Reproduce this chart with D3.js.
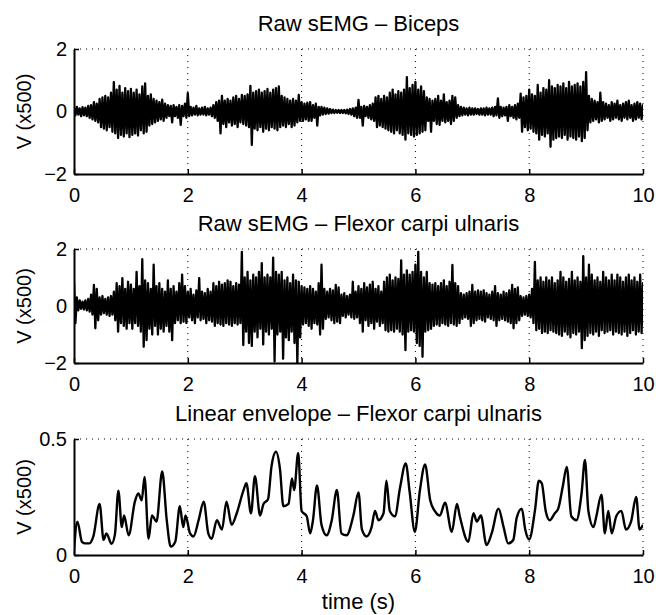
<!DOCTYPE html>
<html>
<head>
<meta charset="utf-8">
<script src="https://cdn.jsdelivr.net/npm/d3@7"></script>
<style>
body { margin: 0; background: #fff; }
svg { font-family: "Liberation Sans", Arial, Helvetica, sans-serif; }
</style>
</head>
<body>
<div id="chart"></div>
<script>
const rawStep = 0.05;

const bicepsHi = [
  0.12,0.15,0.1,0.14,0.12,0.18,0.2,0.3,0.25,0.4,0.45,0.5,0.45,0.6,0.94,0.7,0.82,0.6,0.75,0.65,
  0.72,0.6,0.7,0.55,0.8,0.9,0.5,0.55,0.4,0.35,0.3,0.38,0.25,0.2,0.18,0.2,0.15,0.2,0.18,0.25,
  0.59,0.15,0.12,0.18,0.1,0.12,0.15,0.1,0.12,0.2,0.3,0.35,0.5,0.35,0.4,0.35,0.45,0.5,0.4,0.53,
  0.5,0.55,0.82,0.6,0.65,0.7,0.6,0.65,0.72,0.6,0.7,0.75,0.8,0.5,0.45,0.4,0.35,0.4,0.35,0.53,
  0.3,0.25,0.28,0.3,0.2,0.25,0.15,0.15,0.12,0.1,0.08,0.06,0.05,0.05,0.05,0.05,0.06,0.08,0.1,0.12,
  0.37,0.15,0.18,0.15,0.2,0.25,0.45,0.5,0.4,0.5,0.45,0.6,0.7,0.55,0.65,0.6,0.7,1.1,0.75,0.85,
  0.95,0.7,0.8,0.65,0.45,0.4,0.35,0.4,0.5,0.35,0.55,0.3,0.35,0.5,0.45,0.2,0.15,0.12,0.1,0.12,
  0.1,0.1,0.08,0.1,0.1,0.12,0.1,0.12,0.15,0.42,0.15,0.12,0.15,0.2,0.15,0.2,0.25,0.57,0.45,0.5,
  0.7,0.55,0.5,0.85,0.6,0.75,0.7,1.0,0.8,0.75,0.85,0.8,0.9,0.75,0.95,0.8,0.85,0.9,0.8,0.95,
  1.26,0.5,0.4,0.35,0.3,0.6,0.3,0.25,0.2,0.3,0.25,0.35,0.2,0.25,0.3,0.35,0.2,0.25,0.3,0.25,
  0.2
];
const bicepsLo = [
  -0.12,-0.1,-0.15,-0.12,-0.15,-0.2,-0.25,-0.3,-0.35,-0.5,-0.55,-0.6,-0.5,-0.65,-0.7,-0.85,-0.75,-0.8,-0.7,-0.82,
  -0.75,-0.7,-0.77,-0.6,-0.7,-0.65,-0.45,-0.4,-0.35,-0.3,-0.25,-0.3,-0.2,-0.15,-0.35,-0.15,-0.2,-0.43,-0.15,-0.2,
  -0.15,-0.12,-0.1,-0.12,-0.1,-0.1,-0.12,-0.1,-0.15,-0.2,-0.3,-0.7,-0.4,-0.5,-0.35,-0.45,-0.4,-0.5,-0.35,-0.4,
  -0.45,-0.5,-1.07,-0.55,-0.6,-0.5,-0.65,-0.55,-0.6,-0.5,-0.55,-0.6,-0.5,-0.45,-0.5,-0.4,-0.5,-0.45,-0.35,-0.3,
  -0.3,-0.25,-0.3,-0.3,-0.2,-0.45,-0.12,-0.1,-0.08,-0.07,-0.05,-0.05,-0.04,-0.05,-0.05,-0.06,-0.08,-0.1,-0.15,-0.2,
  -0.2,-0.45,-0.15,-0.2,-0.25,-0.3,-0.5,-0.45,-0.5,-0.55,-0.6,-0.65,-0.7,-0.6,-0.7,-0.75,-0.9,-0.7,-0.75,-0.8,
  -0.75,-0.7,-0.65,-0.6,-0.3,-0.65,-0.3,-0.4,-0.43,-0.3,-0.35,-0.3,-0.4,-0.3,-0.2,-0.15,-0.12,-0.1,-0.12,-0.1,
  -0.1,-0.08,-0.1,-0.1,-0.12,-0.1,-0.1,-0.15,-0.12,-0.2,-0.15,-0.12,-0.3,-0.15,-0.2,-0.25,-0.2,-0.65,-0.5,-0.6,
  -0.55,-0.65,-0.7,-0.9,-0.75,-0.8,-0.7,-1.13,-0.9,-0.85,-0.8,-0.85,-0.75,-0.9,-0.8,-0.85,-0.9,-0.8,-0.95,-0.85,
  -0.6,-0.35,-0.3,-0.25,-0.35,-0.3,-0.25,-0.2,-0.3,-0.25,-0.2,-0.25,-0.3,-0.2,-0.25,-0.2,-0.3,-0.25,-0.2,-0.25,
  -0.2
];

const flexorHi = [
  0.85,0.3,0.2,0.15,0.2,0.25,0.4,0.74,0.6,0.3,0.35,0.25,0.3,0.35,0.5,0.8,0.7,0.98,0.6,0.85,
  0.75,0.6,1.2,0.7,1.64,0.9,0.8,0.6,1.45,0.7,0.8,0.6,0.5,0.9,0.6,0.7,0.5,0.8,1.1,0.7,
  0.5,0.6,0.4,0.55,0.98,0.5,0.45,0.6,0.5,0.8,0.7,0.85,0.75,0.8,0.9,0.85,0.7,0.8,0.75,1.9,
  1.0,1.2,0.9,1.1,1.0,1.2,1.5,1.0,1.1,1.0,1.7,1.2,1.1,1.2,0.9,1.0,0.8,1.1,0.9,0.85,
  0.7,0.65,0.6,0.7,0.6,0.5,0.8,1.45,0.6,0.5,0.6,0.55,0.74,0.65,0.4,0.45,0.35,0.4,0.85,0.5,
  0.7,0.6,0.8,0.65,0.75,0.85,0.6,0.7,0.5,0.85,1.0,1.1,0.9,1.0,0.95,1.6,1.1,1.25,1.1,1.2,
  1.45,1.9,1.2,1.0,1.2,0.8,0.75,0.8,0.7,0.8,0.9,0.7,0.85,1.44,0.8,0.7,0.45,0.4,0.45,0.5,
  0.74,0.5,0.55,0.5,0.55,0.45,0.4,0.5,0.7,0.45,0.4,0.5,0.45,0.55,0.74,0.6,0.65,0.35,0.3,0.35,
  0.4,0.6,1.55,0.9,1.0,0.85,1.0,0.9,1.0,0.8,0.9,1.2,1.0,0.85,0.95,1.2,0.9,1.0,0.85,1.75,
  1.0,1.45,1.1,0.9,1.0,0.85,1.2,1.0,0.9,1.1,0.9,1.1,1.0,0.85,1.0,1.1,0.9,1.0,0.85,1.1,
  0.8
];
const flexorLo = [
  -0.6,-0.15,-0.1,-0.12,-0.15,-0.2,-0.3,-0.78,-0.5,-0.3,-0.25,-0.3,-0.35,-0.3,-0.5,-0.9,-0.6,-0.7,-0.8,-0.6,
  -0.8,-0.6,-0.7,-0.9,-1.43,-1.2,-0.8,-1.0,-0.7,-1.0,-0.8,-0.9,-0.7,-0.9,-1.2,-0.6,-0.5,-0.6,-0.55,-0.6,
  -0.4,-0.5,-0.6,-0.4,-0.5,-0.45,-0.6,-0.5,-0.55,-0.7,-0.6,-0.65,-0.7,-0.6,-0.65,-0.7,-0.6,-0.65,-0.6,-1.37,
  -0.9,-1.3,-1.4,-0.9,-1.1,-0.8,-1.35,-0.9,-1.0,-0.8,-1.95,-1.0,-0.9,-1.85,-1.1,-1.2,-0.9,-1.3,-2.0,-1.1,
  -0.65,-0.6,-0.7,-0.8,-0.6,-0.65,-1.0,-0.8,-0.45,-0.4,-0.5,-0.6,-0.55,-0.6,-0.35,-0.4,-0.3,-0.4,-0.45,-0.4,
  -0.6,-0.9,-0.5,-0.7,-0.6,-0.8,-0.55,-0.7,-0.6,-0.85,-0.9,-0.85,-0.9,-0.8,-0.9,-1.0,-1.55,-0.9,-0.85,-0.9,
  -1.3,-1.4,-1.78,-0.9,-0.85,-0.8,-0.7,-0.65,-0.7,-0.6,-0.65,-0.7,-0.6,-0.65,-0.7,-0.6,-0.45,-0.4,-0.45,-0.7,
  -0.6,-0.5,-0.45,-0.5,-0.55,-0.4,-0.45,-0.5,-0.7,-0.5,-0.45,-0.5,-0.55,-0.6,-0.78,-0.6,-0.5,-0.35,-0.3,-0.35,
  -0.4,-0.6,-0.85,-0.8,-0.95,-0.9,-0.95,-0.85,-0.9,-0.95,-1.0,-1.05,-0.9,-1.0,-1.1,-0.95,-1.0,-0.9,-1.48,-1.2,
  -1.05,-0.95,-1.0,-0.9,-1.05,-0.85,-0.95,-0.9,-0.85,-1.0,-0.9,-0.95,-1.0,-0.9,-1.05,-0.95,-0.85,-1.0,-0.9,-0.95,
  -0.8
];

// Linear envelope, points (time in s, value)
const envTime = [
  0,0.06,0.14,0.2,0.27,0.34,0.45,0.52,0.57,0.66,0.72,0.78,0.84,0.88,0.96,1.07,1.13,1.19,1.24,1.31,
  1.37,1.45,1.55,1.63,1.7,1.78,1.86,1.92,1.96,2.04,2.1,2.19,2.28,2.36,2.42,2.51,2.6,2.68,2.77,2.86,
  2.98,3.03,3.11,3.18,3.27,3.33,3.41,3.47,3.55,3.62,3.68,3.77,3.83,3.87,3.94,4.0,4.09,4.15,4.2,4.27,
  4.35,4.44,4.53,4.62,4.7,4.79,4.91,5.0,5.06,5.14,5.23,5.29,5.35,5.44,5.49,5.55,5.64,5.73,5.83,5.9,
  5.99,6.08,6.17,6.26,6.34,6.43,6.52,6.64,6.73,6.78,6.93,7.02,7.08,7.15,7.25,7.34,7.46,7.55,7.63,7.72,
  7.78,7.87,7.93,8.0,8.1,8.17,8.22,8.29,8.36,8.45,8.51,8.59,8.66,8.74,8.83,8.92,8.98,9.04,9.13,9.18,
  9.27,9.33,9.39,9.45,9.53,9.62,9.7,9.79,9.88,9.94,10.0
];
const envValue = [
  0.02,0.144,0.057,0.05,0.05,0.08,0.22,0.065,0.093,0.048,0.09,0.277,0.12,0.17,0.085,0.23,0.265,0.236,0.336,0.07,
  0.17,0.144,0.36,0.15,0.036,0.057,0.21,0.12,0.17,0.093,0.08,0.15,0.23,0.093,0.07,0.15,0.11,0.23,0.13,0.18,
  0.28,0.31,0.18,0.34,0.17,0.22,0.24,0.38,0.445,0.37,0.21,0.22,0.33,0.28,0.44,0.19,0.167,0.093,0.15,0.3,
  0.13,0.085,0.15,0.28,0.093,0.085,0.17,0.27,0.11,0.08,0.12,0.19,0.15,0.18,0.32,0.19,0.167,0.29,0.395,0.27,
  0.1,0.28,0.39,0.236,0.19,0.17,0.225,0.1,0.22,0.167,0.057,0.18,0.144,0.17,0.043,0.093,0.2,0.12,0.05,0.065,
  0.16,0.2,0.11,0.067,0.19,0.32,0.31,0.19,0.15,0.18,0.2,0.295,0.38,0.167,0.15,0.265,0.41,0.19,0.12,0.167,
  0.26,0.093,0.19,0.093,0.167,0.19,0.11,0.144,0.25,0.11,0.13
];

// Tick values
const xTicks = [0, 2, 4, 6, 8, 10];
const rawYTicks = [-2, 0, 2];
const envYTicks = [0, 0.5];

// Layout
const width = 656;
const height = 615;
const left = 74;
const right = 643;

const svg = d3.select("#chart").append("svg")
              .attr("width", width)
              .attr("height", height);

const xScale = d3.scaleLinear()
                 .domain([0, 10])
                 .range([left, right]);

const fmt = d => (d < 0 ? "\u2212" + Math.abs(d) : String(d));

// turns hi/lo bins into an alternating trace
const zigzag = (hi, lo) => hi.flatMap((h, i) => [[i * rawStep, h], [i * rawStep + rawStep / 2, lo[i]]]);

const panels = [
  { title: "Raw sEMG \u2013 Biceps", top: 49, bottom: 174, domain: [-2, 2], ticks: rawYTicks,
    points: zigzag(bicepsHi, bicepsLo), width: 2.3, curve: d3.curveLinear },
  { title: "Raw sEMG \u2013 Flexor carpi ulnaris", top: 249, bottom: 363, domain: [-2, 2], ticks: rawYTicks,
    points: zigzag(flexorHi, flexorLo), width: 2.3, curve: d3.curveLinear },
  { title: "Linear envelope \u2013 Flexor carpi ulnaris", top: 439, bottom: 555, domain: [0, 0.5], ticks: envYTicks,
    points: envTime.map((t, i) => [t, envValue[i]]), width: 2.4, curve: d3.curveMonotoneX }
];

panels.forEach((p, k) => {
  const yScale = d3.scaleLinear()
                   .domain(p.domain)
                   .range([p.bottom, p.top]);
  const g = svg.append("g");

  // dotted grid
  g.selectAll(".vgrid")
   .data(xTicks.filter(d => d > 0))
   .enter()
   .append("line")
   .attr("x1", d => xScale(d))
   .attr("x2", d => xScale(d))
   .attr("y1", p.top)
   .attr("y2", p.bottom)
   .attr("stroke", "#000")
   .attr("stroke-width", 1)
   .attr("stroke-dasharray", "1,5");
  g.selectAll(".hgrid")
   .data(p.ticks.filter(d => d > p.domain[0]))
   .enter()
   .append("line")
   .attr("x1", left)
   .attr("x2", right)
   .attr("y1", d => yScale(d))
   .attr("y2", d => yScale(d))
   .attr("stroke", "#000")
   .attr("stroke-width", 1)
   .attr("stroke-dasharray", "1,5");

  // clip the trace to the axes box
  svg.append("clipPath")
     .attr("id", "clip" + k)
     .append("rect")
     .attr("x", left)
     .attr("y", p.top)
     .attr("width", right - left)
     .attr("height", p.bottom - p.top);

  const line = d3.line()
                 .x(d => xScale(d[0]))
                 .y(d => yScale(d[1]))
                 .curve(p.curve);

  g.append("path")
   .datum(p.points)
   .attr("clip-path", "url(#clip" + k + ")")
   .attr("d", line)
   .attr("fill", "none")
   .attr("stroke", "#000")
   .attr("stroke-width", p.width)
   .attr("stroke-linejoin", "round");

  // axes
  const xAxis = d3.axisBottom(xScale)
                  .tickValues(xTicks)
                  .tickSize(-5)
                  .tickSizeOuter(0)
                  .tickPadding(14)
                  .tickFormat(fmt);
  const yAxis = d3.axisLeft(yScale)
                  .tickValues(p.ticks)
                  .tickSize(-5)
                  .tickSizeOuter(0)
                  .tickPadding(7)
                  .tickFormat(fmt);

  [g.append("g").attr("transform", "translate(0," + p.bottom + ")").call(xAxis),
   g.append("g").attr("transform", "translate(" + left + ",0)").call(yAxis)]
    .forEach(a => {
      a.attr("font-size", 20).attr("font-family", null);
      a.select(".domain").attr("stroke-width", 2);
      a.selectAll(".tick line").attr("stroke-width", 1.5);
      a.selectAll(".tick text").attr("fill", "#000");
    });

  // title and y label
  g.append("text")
   .text(p.title)
   .attr("x", (left + right) / 2)
   .attr("y", p.top - 18)
   .attr("text-anchor", "middle")
   .style("font-size", "22px");
  g.append("text")
   .text("V (x500)")
   .attr("transform", "translate(31," + (p.top + p.bottom) / 2 + ") rotate(-90)")
   .attr("text-anchor", "middle")
   .style("font-size", "20px");
});

svg.append("text")
   .text("time (s)")
   .attr("x", (left + right) / 2)
   .attr("y", 609)
   .attr("text-anchor", "middle")
   .style("font-size", "22px");
</script>
</body>
</html>
